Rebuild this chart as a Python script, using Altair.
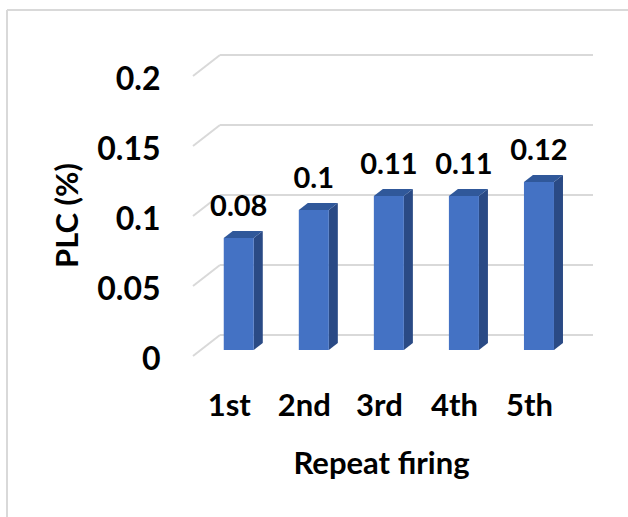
import altair as alt
import pandas as pd

# Repeat firing runs and their PLC values
firings = ["1st", "2nd", "3rd", "4th", "5th"]
plc = [0.08, 0.1, 0.11, 0.11, 0.12]
y_ticks = [0, 0.05, 0.1, 0.15, 0.2]

FONT = "Lato"
FRONT = "#4472c4"
TOP = "#30589a"
SIDE = "#2a4a85"
GRID = "#d9d9d9"

# 3-D box proportions (in data units)
HALF = 0.2      # half bar width on the category axis
DEPTH_X = 0.12  # depth shift along the category axis
DEPTH_Y = 0.005 # depth shift along the value axis

W, H = 373, 280

bars = pd.DataFrame({"i": range(len(firings)), "name": firings, "v": plc})
bars["x0"] = bars["i"] - HALF
bars["x1"] = bars["i"] + HALF

side_rows, top_rows = [], []
for i, v in zip(bars["i"], bars["v"]):
    side_rows += [
        {"bar": i, "x": i + HALF, "y": v, "y2": 0},
        {"bar": i, "x": i + HALF + DEPTH_X, "y": v + DEPTH_Y, "y2": DEPTH_Y},
    ]
    top_rows += [
        {"bar": i, "x": i - HALF, "y": v, "y2": v},
        {"bar": i, "x": i - HALF + DEPTH_X, "y": v + DEPTH_Y, "y2": v},
        {"bar": i, "x": i + HALF, "y": v + DEPTH_Y, "y2": v},
        {"bar": i, "x": i + HALF + DEPTH_X, "y": v + DEPTH_Y, "y2": v + DEPTH_Y},
    ]
side = pd.DataFrame(side_rows)
top = pd.DataFrame(top_rows)
ticks = pd.DataFrame({"v": y_ticks})

label_js = "[" + ",".join(f"'{n}'" for n in firings) + "][datum.value]"

xscale = alt.Scale(domain=[-0.25, 4.72], nice=False, zero=False)
yscale = alt.Scale(domain=[0, 0.2], nice=False)

x_axis = alt.Axis(
    values=list(range(len(firings))), labelExpr=label_js, title="Repeat firing",
    domain=False, ticks=False, grid=False, labelPadding=41, labelOffset=-10,
    labelFont=FONT, labelFontSize=31, labelFontWeight="bold", labelColor="black",
    titleFont=FONT, titleFontSize=31, titleFontWeight="bold", titleColor="black",
    titleX=161, titleY=123, titleAlign="center", titleBaseline="alphabetic",
)
y_axis = alt.Axis(
    values=y_ticks, labelExpr="format(datum.value, '~g')", title="PLC (%)",
    domain=False, ticks=False, grid=False, labelPadding=60, labelOffset=9,
    labelFont=FONT, labelFontSize=32, labelFontWeight="bold", labelColor="black",
    labelBaseline="middle",
    titleFont=FONT, titleFontSize=31, titleFontWeight="bold", titleColor="black",
    titleX=-143, titleY=145, titleAngle=270, titleAlign="center",
    titleBaseline="alphabetic",
)

# back wall gridlines and their floor diagonals
wall = alt.Chart(ticks).mark_rule(color=GRID, strokeWidth=2, yOffset=-15).encode(
    y=alt.Y("v:Q", scale=yscale, axis=y_axis),
    x=alt.value(0), x2=alt.value(W),
)
diag = alt.Chart(ticks).mark_rule(color=GRID, strokeWidth=2, yOffset=6, y2Offset=-15).encode(
    y=alt.Y("v:Q", scale=yscale), y2="v:Q",
    x=alt.value(-27), x2=alt.value(0),
)

front = alt.Chart(bars).mark_bar(color=FRONT).encode(
    x=alt.X("x0:Q", scale=xscale, axis=x_axis), x2="x1:Q",
    y=alt.Y("v:Q", scale=yscale), y2=alt.datum(0),
)
side_face = alt.Chart(side).mark_area(color=SIDE, interpolate="linear").encode(
    x=alt.X("x:Q", scale=xscale), y=alt.Y("y:Q", scale=yscale), y2="y2:Q",
    detail="bar:N",
)
top_face = alt.Chart(top).mark_area(color=TOP, interpolate="linear").encode(
    x=alt.X("x:Q", scale=xscale), y=alt.Y("y:Q", scale=yscale), y2="y2:Q",
    detail="bar:N",
)
labels = alt.Chart(bars).mark_text(
    font=FONT, fontSize=29, fontWeight="bold", color="black",
    baseline="alphabetic", dy=-22,
).encode(
    x=alt.X("i:Q", scale=xscale), y=alt.Y("v:Q", scale=yscale),
    text=alt.Text("v:Q", format="~g"),
)

# outer frame of the chart area
frame_top = alt.Chart(ticks.head(1)).mark_rule(color=GRID, strokeWidth=2).encode(
    x=alt.value(-213), x2=alt.value(408), y=alt.value(-60),
)
frame_left = alt.Chart(ticks.head(1)).mark_rule(color=GRID, strokeWidth=2).encode(
    x=alt.value(-213), y=alt.value(-60), y2=alt.value(447),
)

chart = alt.layer(
    frame_top, frame_left, wall, diag, side_face, top_face, front, labels,
).properties(
    width=W, height=H,
    autosize=alt.AutoSizeParams(type="none"),
    padding={"left": 220, "top": 70, "right": 35, "bottom": 167},
    background="white",
).configure_view(stroke=None)

chart.save("out.html", embed_options={"renderer": "svg", "actions": False})
